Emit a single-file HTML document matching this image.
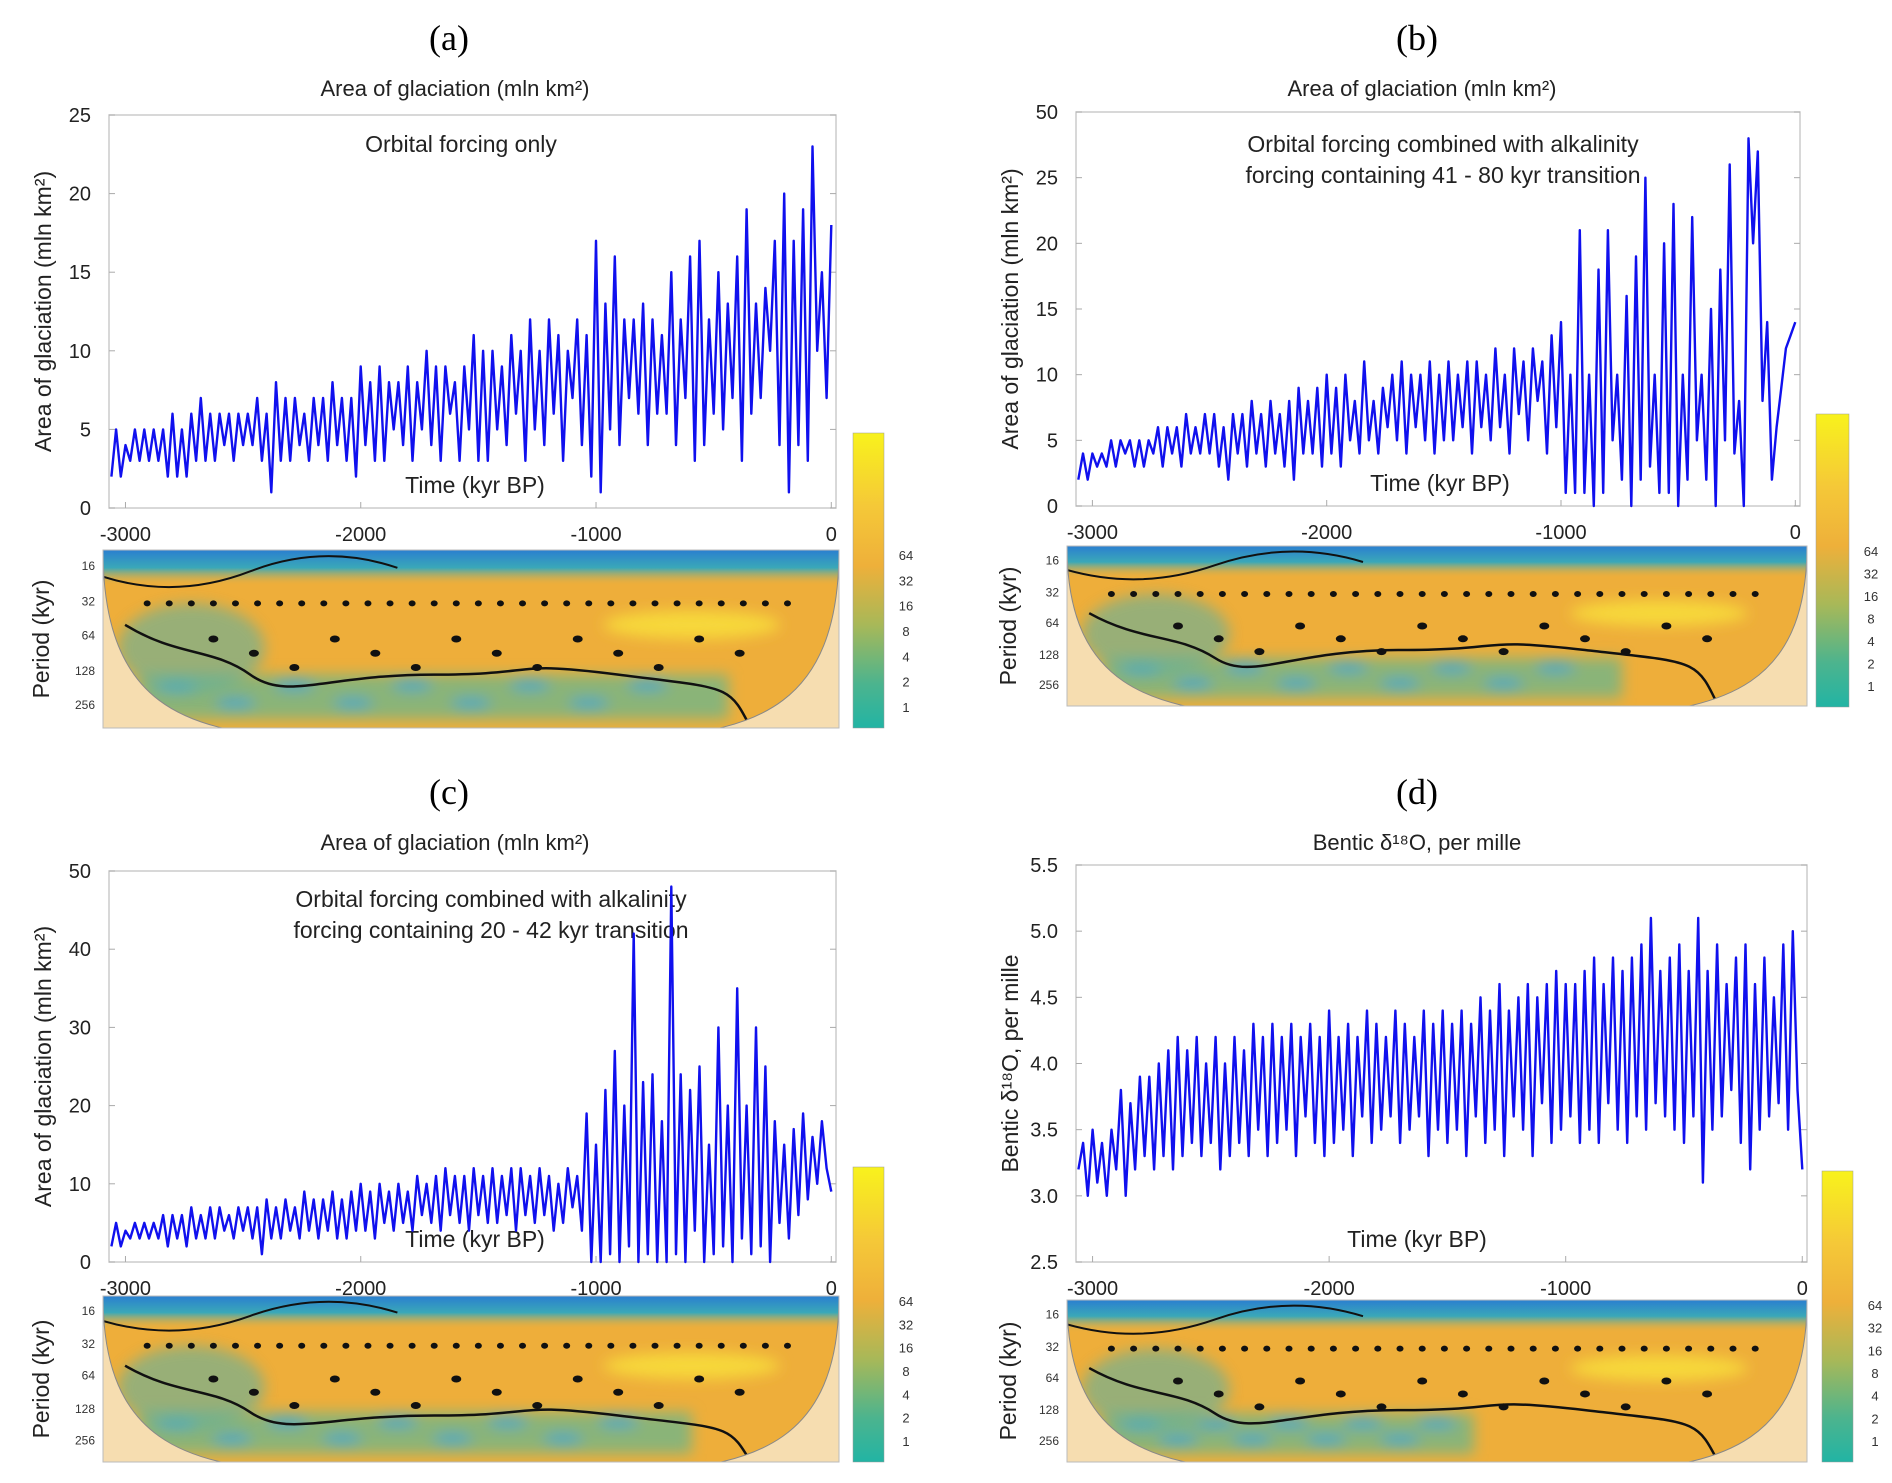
<!DOCTYPE html>
<html><head><meta charset="utf-8">
<style>
html,body{margin:0;padding:0;background:#fff;}
svg{display:block;font-family:"Liberation Sans",sans-serif;}
</style></head>
<body>
<svg id="fig" width="1892" height="1483" viewBox="0 0 1892 1483" xmlns="http://www.w3.org/2000/svg">
<defs>
<linearGradient id="cbar" x1="0" y1="0" x2="0" y2="1">
<stop offset="0" stop-color="#f8f21c"/><stop offset="0.25" stop-color="#f5c838"/><stop offset="0.45" stop-color="#eeb03a"/><stop offset="0.65" stop-color="#a8b858"/><stop offset="0.85" stop-color="#4cb48e"/><stop offset="1" stop-color="#22b4a4"/>
</linearGradient>
<linearGradient id="topband" x1="0" y1="0" x2="0" y2="1">
<stop offset="0" stop-color="#2a7fd0"/><stop offset="0.5" stop-color="#3aa8b8"/><stop offset="1" stop-color="#e8b040" stop-opacity="0"/>
</linearGradient>
<filter id="blur" x="-20%" y="-50%" width="140%" height="200%"><feGaussianBlur stdDeviation="7"/></filter>
</defs>
</svg>
<script>
// ---- data (time step 20 kyr, from -3060 to 0) ----
const timeStart = -3060;
const timeStep = 20;
const seriesA = [2,5,2,4,3,5,3,5,3,5,3,5,2,6,2,5,2,6,3,7,3,6,3,6,4,6,3,6,4,
6,4,7,3,6,1,8,3,7,3,7,4,6,3,7,4,7,3,8,4,7,3,7,2,9,
4,8,3,9,3,8,5,8,4,9,3,8,5,10,4,9,3,9,6,8,3,9,5,11,3,
10,3,10,5,9,4,11,6,10,3,12,5,10,4,12,6,11,3,10,7,12,4,11,2,17,
1,13,5,16,4,12,7,12,6,13,4,12,6,11,6,15,4,12,7,16,3,17,4,12,6,
15,5,13,7,16,3,19,6,13,7,14,10,17,4,20,1,17,4,19,3,23,10,15,7,18];
const seriesB = [2,4,2,4,3,4,3,5,3,5,4,5,3,5,3,5,4,6,3,6,4,6,3,7,4,6,4,7,4,
7,3,6,2,7,4,7,3,8,4,7,3,8,4,7,3,8,2,9,4,8,4,9,3,10,
4,9,3,10,5,8,4,11,5,8,4,9,6,10,5,11,4,10,6,10,5,11,4,10,5,
11,5,10,6,11,4,11,6,10,5,12,6,10,4,12,7,11,5,12,8,11,4,13,6,14,
1,10,1,21,1,10,0,18,1,21,5,10,2,16,0,19,2,25,3,10,1,20,1,23,0,
10,2,22,5,10,2,15,0,18,5,26,4,8,0,28,20,27,8,14,2,6,9,12,13,14];
const seriesC = [2,5,2,4,3,5,3,5,3,5,3,6,2,6,3,6,2,7,3,6,3,7,3,7,4,6,3,7,4,
7,3,7,1,8,3,7,3,8,4,7,3,9,4,8,3,8,4,9,3,8,3,9,4,10,
4,9,3,10,5,9,4,10,5,9,4,11,6,10,5,11,4,12,6,11,5,11,4,12,6,
11,5,12,5,11,6,12,4,12,6,11,5,12,6,11,4,10,5,12,7,11,4,19,0,15,
0,22,1,27,0,20,2,42,0,23,1,24,0,18,0,48,1,24,0,22,4,25,0,15,1,
30,2,20,0,35,3,20,1,30,2,25,0,18,5,15,3,17,6,19,8,16,10,18,12,9];
const seriesD = [3.2,3.4,3.0,3.5,3.1,3.4,3.0,3.5,3.2,3.8,3.0,3.7,3.2,3.9,3.3,3.9,3.2,4.0,3.3,4.1,3.2,4.2,3.3,4.1,3.4,4.2,3.3,4.0,3.4,
4.2,3.2,4.0,3.3,4.2,3.4,4.1,3.3,4.3,3.5,4.2,3.3,4.3,3.4,4.2,3.5,4.3,3.3,4.2,3.6,4.3,3.4,4.2,3.3,4.4,
3.4,4.2,3.5,4.3,3.3,4.2,3.6,4.4,3.4,4.3,3.5,4.2,3.6,4.4,3.4,4.3,3.5,4.2,3.6,4.4,3.3,4.3,3.5,4.4,3.4,
4.3,3.5,4.4,3.3,4.3,3.6,4.5,3.4,4.4,3.5,4.6,3.3,4.4,3.6,4.5,3.5,4.6,3.3,4.5,3.7,4.6,3.4,4.7,3.5,4.6,
3.6,4.6,3.4,4.7,3.5,4.8,3.4,4.6,3.7,4.8,3.5,4.7,3.4,4.8,3.6,4.9,3.5,5.1,3.7,4.7,3.6,4.8,3.5,4.9,3.4,
4.7,3.6,5.1,3.1,4.7,3.5,4.9,3.6,4.6,3.8,4.8,3.4,4.9,3.2,4.6,3.5,4.8,3.6,4.5,3.7,4.9,3.5,5.0,3.8,3.2];
const xTicks = [-3000,-2000,-1000,0];
const yTicksA = [0,5,10,15,20,25];
const yTicksB = [0,5,10,15,20,25,30];
const yLabelsB = ["0","5","10","15","20","25","50"];
const yTicksC = [0,10,20,30,40,50];
const yTicksD = [2.5,3.0,3.5,4.0,4.5,5.0,5.5];
const periodLabels = ["16","32","64","128","256"];
const colorbarLabels = ["64","32","16","8","4","2","1"];

const NS="http://www.w3.org/2000/svg";
const svg=document.getElementById('fig');
function mk(tag,attrs,parent){const e=document.createElementNS(NS,tag);for(const k in attrs)e.setAttribute(k,attrs[k]);(parent||svg).appendChild(e);return e;}
function txt(s,attrs,parent){const e=mk('text',attrs,parent);e.textContent=s;return e;}

function panel(p){
  const g=mk('g',{});
  
  
  const X0=-3070,X1=20;
  const xs=v=>p.L+(v-X0)/(X1-X0)*(p.R-p.L);
  const ys=v=>p.B-(v-p.ymin)/(p.ymax-p.ymin)*(p.B-p.T);
  let t=txt('('+p.id+')',{x:p.lx,y:p.ly,'text-anchor':'middle','font-size':36,'font-family':'"Liberation Serif",serif'},g);
  
  
  t=txt(p.title,{x:p.tx,y:p.ty,'text-anchor':'middle','font-size':22,fill:'#222'},g);
  
  
  const fr=mk('rect',{x:p.L,y:p.T,width:p.R-p.L,height:p.B-p.T,fill:'none',stroke:'#ccc','stroke-width':1.5},g);
  
  
  p.yt.forEach((v,i)=>{
    const y=ys(v);
    mk('line',{x1:p.R-6,x2:p.R,y1:y,y2:y,stroke:'#aaa'},g);
    mk('line',{x1:p.L,x2:p.L+6,y1:y,y2:y,stroke:'#aaa'},g);
    const l=txt(p.yl?p.yl[i]:(p.dec?v.toFixed(1):String(v)),{x:p.L-18,y:y+7,'text-anchor':'end','font-size':20,fill:'#222'},g);
    
    
  });
  xTicks.forEach(v=>{
    const x=xs(v);
    mk('line',{x1:x,x2:x,y1:p.B-6,y2:p.B,stroke:'#aaa'},g);
    const l=txt(String(v),{x:x,y:p.B+33,'text-anchor':'middle','font-size':20,fill:'#222'},g);
    
    
  });
  const yc=(p.T+p.B)/2;
  t=txt(p.ytitle,{x:0,y:0,transform:`translate(${p.L-58},${yc}) rotate(-90)`,'text-anchor':'middle','font-size':23,fill:'#222'},g);
  
  
  t=txt('Time (kyr BP)',{x:p.timex,y:p.B-15,'text-anchor':'middle','font-size':23,fill:'#222'},g);
  
  
  p.note.forEach((s,i)=>{
    const n=txt(s,{x:p.nx,y:p.ny+i*31,'text-anchor':'middle','font-size':23,fill:'#222'},g);
    
    
  });
  let d='';
  p.data.forEach((v,i)=>{d+=(i?'L':'M')+xs(timeStart+i*timeStep).toFixed(1)+','+ys(v).toFixed(1);});
  const ln=mk('path',{d:d,fill:'none',stroke:'#1010ee','stroke-width':2.4,'stroke-linejoin':'round'},g);
  
  

  // wavelet heatmap
  const hL=p.hL,hR=p.hR,hT=p.hT,hB=p.hB,hw=hR-hL,hh=hB-hT;
  const hg=mk('g',{},g);
  
  
  const cid='clip'+p.id;
  const cp=mk('clipPath',{id:cid},hg);
  mk('rect',{x:hL,y:hT,width:hw,height:hh},cp);
  const inner=mk('g',{'clip-path':`url(#${cid})`},hg);
  mk('rect',{x:hL,y:hT,width:hw,height:hh,fill:'#f6ddb0'},inner);
  const coid='cone'+p.id;
  const cc=mk('clipPath',{id:coid},hg);
  const cone=`M${hL},${hT} L${hR},${hT} C${hR},${hT+hh*0.9} ${hR-hw*0.12},${hB} ${hR-hw*0.25},${hB+10} L${hL+hw*0.25},${hB+10} C${hL+hw*0.12},${hB} ${hL},${hT+hh*0.9} ${hL},${hT} Z`;
  mk('path',{d:cone},cc);
  const ci=mk('g',{'clip-path':`url(#${coid})`},inner);
  mk('rect',{x:hL,y:hT,width:hw,height:hh,fill:'#eeae3a'},ci);
  const bl=mk('g',{filter:'url(#blur)'},ci);
  mk('rect',{x:hL+hw*0.05,y:hT+hh*0.7,width:hw*p.blueFrac,height:hh*0.25,fill:'#8ab478'},bl);
  for(let k=0;k<9;k++){mk('ellipse',{cx:hL+hw*(0.1+k*0.1*p.blueFrac),cy:hT+hh*(0.76+0.1*(k%2)),rx:20,ry:5,fill:'#3aa6c8'},bl);}
  mk('ellipse',{cx:hL+hw*0.8,cy:hT+hh*0.42,rx:hw*0.12,ry:hh*0.08,fill:'#f7d83a'},bl);
  mk('rect',{x:hL,y:hT,width:hw,height:hh*0.2,fill:'url(#topband)'},ci);
  mk('ellipse',{cx:hL+hw*0.12,cy:hT+hh*0.55,rx:hw*0.1,ry:hh*0.25,fill:'#5fb0a0',opacity:0.6,filter:'url(#blur)'},ci);
  for(let k=0;k<30;k++){mk('ellipse',{cx:hL+hw*(0.06+k*0.03),cy:hT+hh*0.3,rx:3.5,ry:3,fill:'#111'},ci);}
  for(let k=0;k<14;k++){mk('ellipse',{cx:hL+hw*(0.15+k*0.055),cy:hT+hh*(0.5+0.08*(k%3)),rx:5,ry:3.5,fill:'#111'},ci);}
  const cy1=hT+hh*p.contour;
  mk('path',{d:`M${hL+hw*0.03},${hT+hh*0.42} C${hL+hw*0.1},${hT+hh*0.6} ${hL+hw*0.15},${hT+hh*0.55} ${hL+hw*0.2},${hT+hh*0.7} S${hL+hw*0.3},${cy1} ${hL+hw*0.45},${cy1} S${hL+hw*0.55},${cy1-hh*0.08} ${hL+hw*0.7},${cy1} S${hL+hw*0.85},${cy1+hh*0.05} ${hL+hw*0.88},${hB}`,fill:'none',stroke:'#111','stroke-width':2.5},ci);
  mk('path',{d:`M${hL},${hT+hh*0.15} Q${hL+hw*0.1},${hT+hh*0.28} ${hL+hw*0.2},${hT+hh*0.12} T${hL+hw*0.4},${hT+hh*0.1}`,fill:'none',stroke:'#111','stroke-width':2},ci);
  mk('path',{d:cone,fill:'none',stroke:'#888','stroke-width':1},inner);
  mk('rect',{x:hL,y:hT,width:hw,height:hh,fill:'none',stroke:'#bbb'},hg);
  const ph=[0.09,0.29,0.48,0.68,0.87];
  periodLabels.forEach((s,i)=>{
    const l=txt(s,{x:hL-8,y:hT+hh*ph[i]+4,'text-anchor':'end','font-size':12,fill:'#333'},g);
    
    
  });
  t=txt('Period (kyr)',{x:0,y:0,transform:`translate(${p.L-60},${(hT+hB)/2}) rotate(-90)`,'text-anchor':'middle','font-size':23,fill:'#222'},g);
  
  
  const cb=mk('rect',{x:p.cL,y:p.cT,width:p.cR-p.cL,height:p.cB-p.cT,fill:'url(#cbar)',stroke:'#999','stroke-width':0.5},g);
  
  
  const span=p.cB-hT-26;
  colorbarLabels.forEach((s,i)=>{
    const l=txt(s,{x:p.cR+22,y:hT+6+i*span/6+4,'text-anchor':'middle','font-size':13,fill:'#333'},g);
    
    
  });
}
const T1='Area of glaciation (mln km²)';
panel({id:'a',lx:449,ly:50,title:'Area of glaciation (mln km²)',tx:455,ty:96,L:109,R:836,T:115,B:508,ymin:0,ymax:25,yt:yTicksA,ytitle:T1,timex:475,note:['Orbital forcing only'],nx:461,ny:152,data:seriesA,hL:103,hR:839,hT:550,hB:728,blueFrac:0.8,contour:0.7,cL:853,cR:884,cT:433,cB:728});
panel({id:'b',lx:1417,ly:50,title:'Area of glaciation (mln km²)',tx:1422,ty:96,L:1076,R:1800,T:112,B:506,ymin:0,ymax:30,yt:yTicksB,yl:yLabelsB,ytitle:T1,timex:1440,note:['Orbital forcing combined with alkalinity','forcing containing 41 - 80 kyr transition'],nx:1443,ny:152,data:seriesB,hL:1067,hR:1807,hT:546,hB:706,blueFrac:0.7,contour:0.65,cL:1816,cR:1849,cT:414,cB:707});
panel({id:'c',lx:449,ly:804,title:'Area of glaciation (mln km²)',tx:455,ty:850,L:109,R:836,T:871,B:1262,ymin:0,ymax:50,yt:yTicksC,ytitle:T1,timex:475,note:['Orbital forcing combined with alkalinity','forcing containing 20 - 42 kyr transition'],nx:491,ny:907,data:seriesC,hL:103,hR:839,hT:1296,hB:1462,blueFrac:0.75,contour:0.72,cL:853,cR:884,cT:1167,cB:1462});
panel({id:'d',lx:1417,ly:804,title:'Bentic δ¹⁸O, per mille',tx:1417,ty:850,L:1076,R:1807,T:865,B:1262,ymin:2.5,ymax:5.5,yt:yTicksD,dec:true,ytitle:'Bentic δ¹⁸O, per mille',timex:1417,note:[],nx:0,ny:0,data:seriesD,hL:1067,hR:1807,hT:1300,hB:1462,blueFrac:0.5,contour:0.68,cL:1822,cR:1853,cT:1171,cB:1462});
</script>
</body></html>
